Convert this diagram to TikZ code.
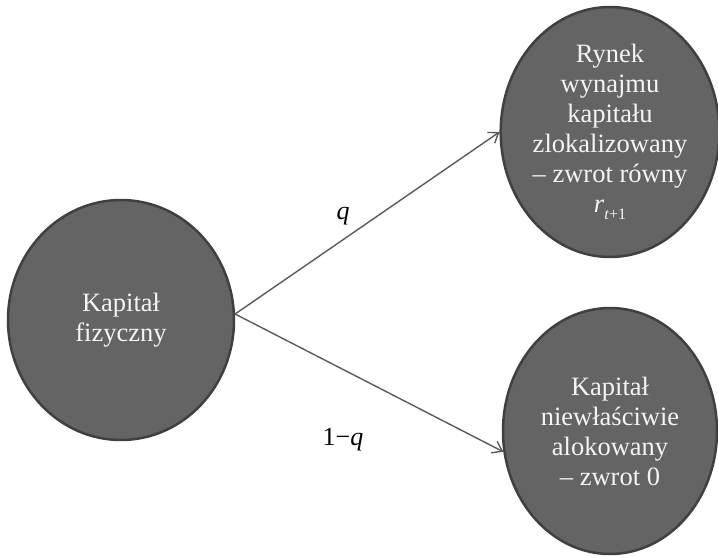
\documentclass[tikz,border=0pt]{standalone}
\usepackage{fontspec}
\setmainfont{Liberation Serif}
\usetikzlibrary{shapes.geometric,arrows.meta}
\definecolor{ellfill}{HTML}{646464}
\definecolor{elldraw}{HTML}{404040}
\definecolor{arrcol}{HTML}{5A5A5A}
\definecolor{txtcol}{HTML}{F4F4F4}
\tikzset{
  bubble/.style={ellipse, draw=elldraw, fill=ellfill, line width=2.5pt, inner sep=0pt,
    align=center, text=txtcol, font=\fontsize{26.5}{30}\selectfont},
  conn/.style={draw=arrcol, line width=1.4pt, -{Straight Barb[length=9pt,width=13pt,line width=1.4pt]}},
  lbl/.style={font=\fontsize{26}{28}\selectfont, text=black, inner sep=0pt}
}
\begin{document}
\begin{tikzpicture}[x=1pt,y=-1pt]
\useasboundingbox (0,0) rectangle (718,557);
\node[bubble, minimum width=226pt, minimum height=240pt] (L) at (121,320) {Kapitał\\fizyczny};
\node[bubble, minimum width=216pt, minimum height=250pt] (U) at (610,132) {Rynek\\wynajmu\\kapitału\\zlokalizowany\\– zwrot równy\\\textit{r}\raisebox{-0.28em}{\fontsize{16}{16}\selectfont\textit{t}+1}};
\node[bubble, minimum width=214pt, minimum height=246pt] (D) at (610,431) {Kapitał\\niewłaściwie\\alokowany\\– zwrot 0};
\draw[conn] (L.3) -- (U.west);
\draw[conn] (L.3) -- (D.191);
\node[lbl] (q) at (343,216) {\textit{q}};
\node[lbl] (q1) at (343,440) {1−\textit{q}};
\end{tikzpicture}
\end{document}
